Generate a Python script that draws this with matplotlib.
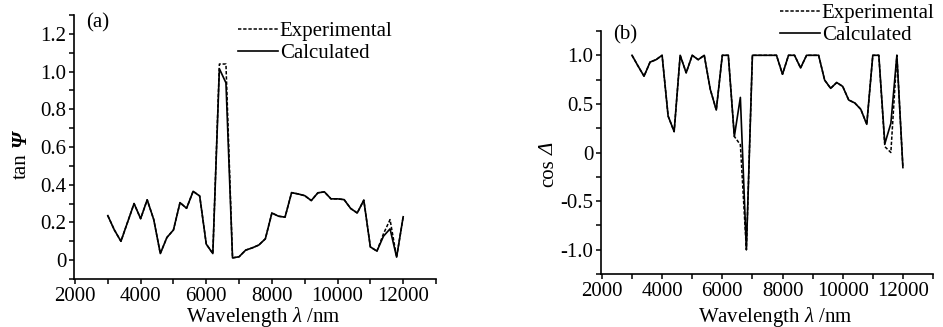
import numpy as np
import matplotlib
matplotlib.use("Agg")
import matplotlib.pyplot as plt
from matplotlib.ticker import MultipleLocator

# wavelength grid (nm), 200 nm steps
wavelength = np.arange(3000, 12001, 200)

# tan(psi)
tan_psi_calc = [0.236, 0.16, 0.10, 0.20, 0.30, 0.22, 0.32, 0.215, 0.035, 0.12,
                0.16, 0.305, 0.275, 0.365, 0.34, 0.085, 0.035, 1.015, 0.94, 0.012,
                0.018, 0.053, 0.065, 0.08, 0.113, 0.25, 0.233, 0.228, 0.358, 0.351,
                0.342, 0.316, 0.357, 0.362, 0.325, 0.325, 0.321, 0.274, 0.25, 0.318,
                0.07, 0.048, 0.127, 0.166, 0.016, 0.23]
tan_psi_exp = list(tan_psi_calc)
tan_psi_exp[17] = 1.04
tan_psi_exp[18] = 1.04
tan_psi_exp[42] = 0.14
tan_psi_exp[43] = 0.215

# cos(delta)
cos_delta_calc = [1.0, 0.89, 0.785, 0.93, 0.955, 1.0, 0.375, 0.215, 1.0, 0.82,
                  1.0, 0.955, 1.0, 0.65, 0.437, 1.0, 1.0, 0.165, 0.567, -1.0,
                  1.0, 1.0, 1.0, 1.0, 1.0, 0.805, 1.0, 1.0, 0.87, 1.0,
                  1.0, 1.0, 0.745, 0.66, 0.72, 0.68, 0.54, 0.51, 0.445, 0.29,
                  1.0, 1.0, 0.09, 0.3, 1.0, -0.155]
cos_delta_exp = list(cos_delta_calc)
cos_delta_exp[18] = 0.08
cos_delta_exp[42] = 0.06
cos_delta_exp[43] = 0.0

plt.rcParams['font.family'] = 'Liberation Serif'
plt.rcParams['mathtext.fontset'] = 'custom'
plt.rcParams['mathtext.rm'] = 'Liberation Serif'
plt.rcParams['mathtext.it'] = 'Liberation Serif:italic'
plt.rcParams['font.size'] = 15

W, H = 943, 327
fig = plt.figure(figsize=(W / 100, H / 100), dpi=100)

def px_axes(l, r, t, b):
    return fig.add_axes([l / W, 1 - b / H, (r - l) / W, (b - t) / H])

ax1 = px_axes(74, 436, 15, 279)
ax2 = px_axes(601, 933, 31, 274)

dash = (0, (2.2, 1.2))
for ax, calc, exp in [(ax1, tan_psi_calc, tan_psi_exp), (ax2, cos_delta_calc, cos_delta_exp)]:
    ax.plot(wavelength, exp, color='black', lw=1.1, linestyle=dash, label='Experimental')
    ax.plot(wavelength, calc, color='black', lw=1.2, label='Calculated')
    for s in ['top', 'right']:
        ax.spines[s].set_visible(False)
    ax.spines['left'].set_linewidth(1.2)
    ax.spines['bottom'].set_linewidth(1.2)
    ax.set_xlim(1970, 13000)
    ax.xaxis.set_major_locator(MultipleLocator(2000))
    ax.xaxis.set_minor_locator(MultipleLocator(1000))
    ax.tick_params(which='both', direction='out', length=3.5, width=1.1, pad=2)

ax1.set_ylim(-0.1, 1.3)
ax1.yaxis.set_minor_locator(MultipleLocator(0.1))
ax1.set_yticks([0, 0.2, 0.4, 0.6, 0.8, 1.0, 1.2])
ax1.set_yticklabels(['0', '0.2', '0.4', '0.6', '0.8', '1.0', '1.2'])

ax2.set_ylim(-1.25, 1.25)
ax2.set_yticks([-1.0, -0.5, 0, 0.5, 1.0])
ax2.yaxis.set_minor_locator(MultipleLocator(0.25))
ax2.set_yticklabels(['-1.0', '-0.5', '0', '0.5', '1.0'])

# y labels: upright function name + italic capital Greek letter
fig.text(21 / W, 1 - 166.5 / H, 'tan', rotation=90, ha='center', va='center')
fig.text(21 / W, 1 - 139 / H, 'Ψ', rotation=90, ha='center', va='center',
         fontstyle='italic', fontweight='bold')
fig.text(549 / W, 1 - 173.5 / H, 'cos', rotation=90, ha='center', va='center')
fig.text(549 / W, 1 - 148.5 / H, 'Δ', rotation=90, ha='center', va='center',
         fontstyle='italic')

ax1.set_xlabel(r'Wavelength $\mathit{\lambda}$ /nm')
ax1.xaxis.set_label_coords(0.522, -0.097)
ax2.set_xlabel(r'Wavelength $\mathit{\lambda}$ /nm')
ax2.xaxis.set_label_coords(0.524, -0.126)

fig.text(86 / W, 1 - 23 / H, '(a)', ha='left', va='center')
fig.text(613 / W, 1 - 35 / H, '(b)', ha='left', va='center')

leg_kw = dict(frameon=False, handlelength=1.9, handletextpad=0.1, labelspacing=0.12,
              borderpad=0, borderaxespad=0, loc='center left')
ax1.legend(bbox_to_anchor=(238 / W, 1 - 42.5 / H), bbox_transform=fig.transFigure, **leg_kw)
ax2.legend(bbox_to_anchor=(780 / W, 1 - 24.5 / H), bbox_transform=fig.transFigure, **leg_kw)

fig.savefig('out.png', dpi=100)
